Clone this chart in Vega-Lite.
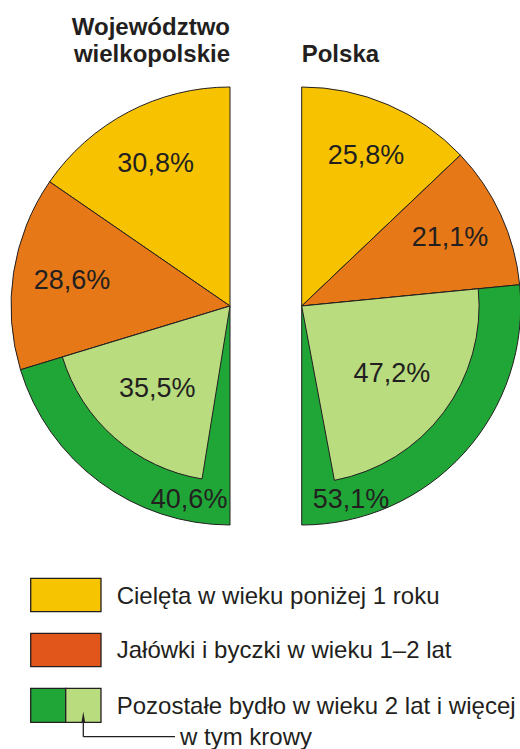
{
  "$schema": "https://vega.github.io/schema/vega-lite/v6.json",
  "width": 520,
  "height": 749,
  "autosize": "none",
  "padding": 0,
  "background": "white",
  "config": {"view": {"stroke": null}, "font": "Liberation Sans"},
  "datasets": {
    "outer": [
      {"region": "Województwo wielkopolskie", "part": "Cielęta", "share": 30.8, "k": 1},
      {"region": "Województwo wielkopolskie", "part": "Jałówki", "share": 28.6, "k": 2},
      {"region": "Województwo wielkopolskie", "part": "Pozostałe", "share": 40.6, "k": 3},
      {"region": "Polska", "part": "Cielęta", "share": 25.8, "k": 1},
      {"region": "Polska", "part": "Jałówki", "share": 21.1, "k": 2},
      {"region": "Polska", "part": "Pozostałe", "share": 53.1, "k": 3}
    ],
    "inner": [
      {"region": "Województwo wielkopolskie", "part": "Cielęta", "share": 30.8, "k": 1, "lbl": "30,8%"},
      {"region": "Województwo wielkopolskie", "part": "Jałówki", "share": 28.6, "k": 2, "lbl": "28,6%"},
      {"region": "Województwo wielkopolskie", "part": "Krowy", "share": 35.5, "k": 3, "lbl": "35,5%"},
      {"region": "Województwo wielkopolskie", "part": "Reszta", "share": 5.1, "k": 4, "lbl": "40,6%"},
      {"region": "Polska", "part": "Cielęta", "share": 25.8, "k": 1, "lbl": "25,8%"},
      {"region": "Polska", "part": "Jałówki", "share": 21.1, "k": 2, "lbl": "21,1%"},
      {"region": "Polska", "part": "Krowy", "share": 47.2, "k": 3, "lbl": "47,2%"},
      {"region": "Polska", "part": "Reszta", "share": 5.9, "k": 4, "lbl": "53,1%"}
    ],
    "regions": [
      {"region": "Województwo wielkopolskie"},
      {"region": "Polska"}
    ],
    "legend": [
      {"key": "Cielęta", "label": "Cielęta w wieku poniżej 1 roku"},
      {"key": "Jałówki", "label": "Jałówki i byczki w wieku 1–2 lat"},
      {"key": "Pozostałe", "label": "Pozostałe bydło w wieku 2 lat i więcej"},
      {"key": "Krowy", "label": "w tym krowy"}
    ]
  },
  "resolve": {"scale": {"theta": "independent"}},
  "layer": [
    {
      "encoding": {
        "x": {"datum": 230, "type": "quantitative", "scale": {"domain": [0, 520], "nice": false, "zero": false}, "axis": null},
        "y": {"datum": 306, "type": "quantitative", "scale": {"domain": [0, 749], "nice": false, "zero": false, "reverse": true}, "axis": null},
        "theta": {"field": "share", "type": "quantitative", "stack": true, "scale": {"domain": [0, 100], "range": [6.283185, 3.141593]}},
        "order": {"field": "k", "type": "quantitative"}
      },
      "layer": [
        {
          "data": {"name": "outer"},
          "transform": [{"filter": "datum.region === 'Województwo wielkopolskie'"}],
          "mark": {"type": "arc", "stroke": "#231F20", "strokeWidth": 1},
          "encoding": {
            "color": {"field": "part", "type": "nominal", "scale": {"domain": ["Cielęta", "Jałówki", "Pozostałe", "Krowy", "Reszta"], "range": ["#F7C300", "#E67817", "#1FA637", "#B9DC7F", "#1FA637"]}, "legend": null},
            "radius": {"datum": 100, "type": "quantitative", "scale": {"type": "linear", "domain": [0, 100], "range": [0, 219], "zero": true}}
          }
        },
        {
          "data": {"name": "inner"},
          "transform": [{"filter": "datum.region === 'Województwo wielkopolskie'"}],
          "mark": {"type": "arc", "stroke": "#231F20", "strokeWidth": 1},
          "encoding": {
            "color": {"field": "part", "type": "nominal", "legend": null},
            "radius": {"datum": 80, "type": "quantitative"},
            "opacity": {"condition": {"test": "datum.part === 'Krowy'", "value": 1}, "value": 0}
          }
        },
        {
          "data": {"name": "inner"},
          "transform": [{"filter": "datum.region === 'Województwo wielkopolskie'"}],
          "mark": {"type": "text", "fontSize": 27, "font": "Liberation Sans", "color": "#231F20"},
          "encoding": {
            "radius": {"datum": 73, "type": "quantitative"},
            "text": {"condition": {"test": "datum.part === 'Cielęta' || datum.part === 'Jałówki'", "field": "lbl", "type": "nominal"}, "value": ""}
          }
        },
        {
          "data": {"name": "inner"},
          "transform": [{"filter": "datum.region === 'Województwo wielkopolskie'"}],
          "mark": {"type": "text", "fontSize": 27, "font": "Liberation Sans", "color": "#231F20"},
          "encoding": {
            "radius": {"datum": 50.5, "type": "quantitative"},
            "text": {"condition": {"test": "datum.part === 'Krowy'", "field": "lbl", "type": "nominal"}, "value": ""}
          }
        },
        {
          "data": {"name": "inner"},
          "transform": [{"filter": "datum.region === 'Województwo wielkopolskie'"}],
          "mark": {"type": "text", "fontSize": 27, "font": "Liberation Sans", "color": "#231F20", "align": "right", "dx": 13},
          "encoding": {
            "radius": {"datum": 89, "type": "quantitative"},
            "text": {"condition": {"test": "datum.part === 'Reszta'", "field": "lbl", "type": "nominal"}, "value": ""}
          }
        }
      ]
    },
    {
      "encoding": {
        "x": {"datum": 301.7, "type": "quantitative"},
        "y": {"datum": 306, "type": "quantitative"},
        "theta": {"field": "share", "type": "quantitative", "stack": true, "scale": {"domain": [0, 100], "range": [0, 3.141593]}},
        "order": {"field": "k", "type": "quantitative"}
      },
      "layer": [
        {
          "data": {"name": "outer"},
          "transform": [{"filter": "datum.region === 'Polska'"}],
          "mark": {"type": "arc", "stroke": "#231F20", "strokeWidth": 1},
          "encoding": {
            "color": {"field": "part", "type": "nominal", "legend": null},
            "radius": {"datum": 100, "type": "quantitative"}
          }
        },
        {
          "data": {"name": "inner"},
          "transform": [{"filter": "datum.region === 'Polska'"}],
          "mark": {"type": "arc", "stroke": "#231F20", "strokeWidth": 1},
          "encoding": {
            "color": {"field": "part", "type": "nominal", "legend": null},
            "radius": {"datum": 81, "type": "quantitative"},
            "opacity": {"condition": {"test": "datum.part === 'Krowy'", "value": 1}, "value": 0}
          }
        },
        {
          "data": {"name": "inner"},
          "transform": [{"filter": "datum.region === 'Polska'"}],
          "mark": {"type": "text", "fontSize": 27, "font": "Liberation Sans", "color": "#231F20"},
          "encoding": {
            "radius": {"datum": 74.5, "type": "quantitative"},
            "text": {"condition": {"test": "datum.part === 'Cielęta' || datum.part === 'Jałówki'", "field": "lbl", "type": "nominal"}, "value": ""}
          }
        },
        {
          "data": {"name": "inner"},
          "transform": [{"filter": "datum.region === 'Polska'"}],
          "mark": {"type": "text", "fontSize": 27, "font": "Liberation Sans", "color": "#231F20"},
          "encoding": {
            "radius": {"datum": 51.5, "type": "quantitative"},
            "text": {"condition": {"test": "datum.part === 'Krowy'", "field": "lbl", "type": "nominal"}, "value": ""}
          }
        },
        {
          "data": {"name": "inner"},
          "transform": [{"filter": "datum.region === 'Polska'"}],
          "mark": {"type": "text", "fontSize": 27, "font": "Liberation Sans", "color": "#231F20", "align": "left", "dx": -7},
          "encoding": {
            "radius": {"datum": 89, "type": "quantitative"},
            "text": {"condition": {"test": "datum.part === 'Reszta'", "field": "lbl", "type": "nominal"}, "value": ""}
          }
        }
      ]
    },
    {
      "data": {"name": "regions"},
      "transform": [{"filter": "datum.region === 'Województwo wielkopolskie'"}],
      "mark": {"type": "text", "fontSize": 24, "fontWeight": "bold", "font": "Liberation Sans", "color": "#231F20", "align": "right", "baseline": "alphabetic", "lineBreak": " ", "lineHeight": 26.7},
      "encoding": {
        "x": {"datum": 230, "type": "quantitative"},
        "y": {"datum": 35, "type": "quantitative"},
        "text": {"field": "region", "type": "nominal"}
      }
    },
    {
      "data": {"name": "regions"},
      "transform": [{"filter": "datum.region === 'Polska'"}],
      "mark": {"type": "text", "fontSize": 24, "fontWeight": "bold", "font": "Liberation Sans", "color": "#231F20", "align": "left", "baseline": "alphabetic"},
      "encoding": {
        "x": {"datum": 301.7, "type": "quantitative"},
        "y": {"datum": 61.7, "type": "quantitative"},
        "text": {"field": "region", "type": "nominal"}
      }
    },
    {
      "data": {"name": "legend"},
      "transform": [{"filter": "datum.key === 'Cielęta'"}],
      "mark": {"type": "rect", "color": "#F6C400", "stroke": "#231F20", "strokeWidth": 1.3},
      "encoding": {
        "x": {"datum": 30.7, "type": "quantitative"}, "x2": {"datum": 101},
        "y": {"datum": 578.3, "type": "quantitative"}, "y2": {"datum": 611.7}
      }
    },
    {
      "data": {"name": "legend"},
      "transform": [{"filter": "datum.key === 'Jałówki'"}],
      "mark": {"type": "rect", "color": "#E0561B", "stroke": "#231F20", "strokeWidth": 1.3},
      "encoding": {
        "x": {"datum": 30.7, "type": "quantitative"}, "x2": {"datum": 101},
        "y": {"datum": 633.3, "type": "quantitative"}, "y2": {"datum": 666.7}
      }
    },
    {
      "data": {"name": "legend"},
      "transform": [{"filter": "datum.key === 'Pozostałe'"}],
      "mark": {"type": "rect", "color": "#1FA637", "stroke": "#231F20", "strokeWidth": 1.3},
      "encoding": {
        "x": {"datum": 30.7, "type": "quantitative"}, "x2": {"datum": 65.7},
        "y": {"datum": 688.3, "type": "quantitative"}, "y2": {"datum": 722.3}
      }
    },
    {
      "data": {"name": "legend"},
      "transform": [{"filter": "datum.key === 'Krowy'"}],
      "mark": {"type": "rect", "color": "#B9DC7F", "stroke": "#231F20", "strokeWidth": 1.3},
      "encoding": {
        "x": {"datum": 65.7, "type": "quantitative"}, "x2": {"datum": 101},
        "y": {"datum": 688.3, "type": "quantitative"}, "y2": {"datum": 722.3}
      }
    },
    {
      "data": {"name": "legend"},
      "transform": [{"filter": "datum.key === 'Cielęta'"}],
      "mark": {"type": "text", "fontSize": 24, "font": "Liberation Sans", "color": "#231F20", "align": "left", "baseline": "alphabetic"},
      "encoding": {
        "x": {"datum": 116.7, "type": "quantitative"},
        "y": {"datum": 604.3, "type": "quantitative"},
        "text": {"field": "label", "type": "nominal"}
      }
    },
    {
      "data": {"name": "legend"},
      "transform": [{"filter": "datum.key === 'Jałówki'"}],
      "mark": {"type": "text", "fontSize": 24, "font": "Liberation Sans", "color": "#231F20", "align": "left", "baseline": "alphabetic"},
      "encoding": {
        "x": {"datum": 116.7, "type": "quantitative"},
        "y": {"datum": 658.3, "type": "quantitative"},
        "text": {"field": "label", "type": "nominal"}
      }
    },
    {
      "data": {"name": "legend"},
      "transform": [{"filter": "datum.key === 'Pozostałe'"}],
      "mark": {"type": "text", "fontSize": 24, "font": "Liberation Sans", "color": "#231F20", "align": "left", "baseline": "alphabetic"},
      "encoding": {
        "x": {"datum": 116.7, "type": "quantitative"},
        "y": {"datum": 714, "type": "quantitative"},
        "text": {"field": "label", "type": "nominal"}
      }
    },
    {
      "data": {"name": "legend"},
      "transform": [{"filter": "datum.key === 'Krowy'"}],
      "mark": {"type": "text", "fontSize": 24, "font": "Liberation Sans", "color": "#231F20", "align": "left", "baseline": "alphabetic"},
      "encoding": {
        "x": {"datum": 180, "type": "quantitative"},
        "y": {"datum": 745, "type": "quantitative"},
        "text": {"field": "label", "type": "nominal"}
      }
    },
    {
      "data": {"name": "legend"},
      "transform": [{"filter": "datum.key === 'Krowy'"}],
      "mark": {"type": "rule", "color": "#231F20", "strokeWidth": 1.3},
      "encoding": {
        "x": {"datum": 83.3, "type": "quantitative"},
        "y": {"datum": 736.7, "type": "quantitative"}, "y2": {"datum": 720}
      }
    },
    {
      "data": {"name": "legend"},
      "transform": [{"filter": "datum.key === 'Krowy'"}],
      "mark": {"type": "rule", "color": "#231F20", "strokeWidth": 1.3},
      "encoding": {
        "x": {"datum": 83.3, "type": "quantitative"}, "x2": {"datum": 175},
        "y": {"datum": 736.7, "type": "quantitative"}
      }
    },
    {
      "data": {"name": "legend"},
      "transform": [{"filter": "datum.key === 'Krowy'"}],
      "mark": {"type": "point", "shape": "M0,-1L0.34,1L0,0.6L-0.34,1Z", "filled": true, "color": "#231F20", "fill": "#231F20", "opacity": 1, "fillOpacity": 1, "size": 144, "strokeWidth": 0},
      "encoding": {
        "x": {"datum": 83.3, "type": "quantitative"},
        "y": {"datum": 717.5, "type": "quantitative"}
      }
    }
  ]
}
